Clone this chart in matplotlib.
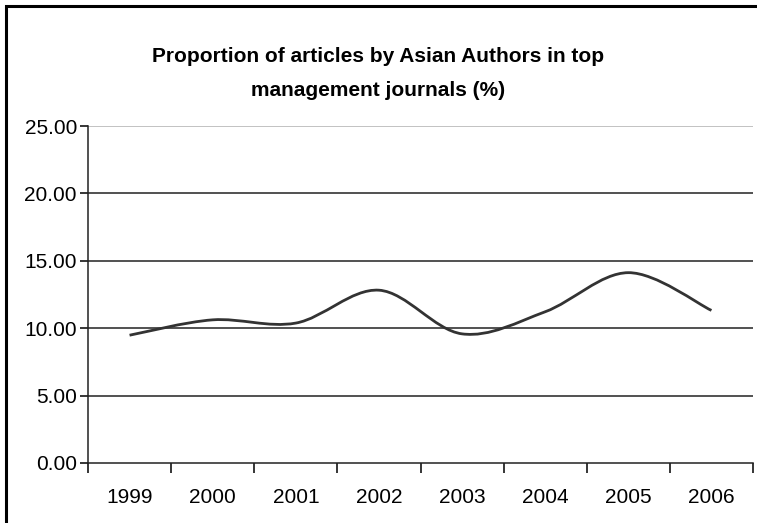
import numpy as np
import matplotlib
matplotlib.use("Agg")
import matplotlib.pyplot as plt
from matplotlib.path import Path
from matplotlib.patches import PathPatch, Rectangle

plt.rcParams['font.family'] = ['Liberation Sans', 'DejaVu Sans']

years = ['1999', '2000', '2001', '2002', '2003', '2004', '2005', '2006']
share = [9.48, 10.62, 10.38, 12.82, 9.58, 11.22, 14.12, 11.32]
y_ticks = [0, 5, 10, 15, 20, 25]

fig = plt.figure(figsize=(7.57, 5.23), dpi=100)
# chart area border (only left/top edges are visible in the picture)
fig.patches.append(Rectangle((6 / 757, -0.1), 1.2, (523 - 6) / 523 + 0.1,
                             transform=fig.transFigure, fill=False,
                             edgecolor='black', linewidth=2.2))

ax = fig.add_axes([88 / 757, 1 - 463 / 523, (753 - 88) / 757, (463 - 126) / 523])

# Excel-style smoothed line: cubic Bezier segments through the data points
x = np.arange(len(share))
pts = np.column_stack([x, share])
ext = np.vstack([pts[0], pts, pts[-1]])
verts = [tuple(pts[0])]
codes = [Path.MOVETO]
for i in range(len(pts) - 1):
    p0, p1, p2, p3 = ext[i], ext[i + 1], ext[i + 2], ext[i + 3]
    c1 = p1 + (p2 - p0) / 6
    c2 = p2 - (p3 - p1) / 6
    verts += [tuple(c1), tuple(c2), tuple(p2)]
    codes += [Path.CURVE4] * 3
ax.add_patch(PathPatch(Path(verts, codes), fill=False, edgecolor='#333333',
                       linewidth=2.0, zorder=3, capstyle='butt'))

ax.set_xlim(-0.5, len(years) - 0.5)
ax.set_ylim(0, 25)

for v in y_ticks[1:-1]:
    ax.axhline(v, color='#222222', linewidth=1.1, zorder=1)
ax.axhline(25, color='#b8b8b8', linewidth=1.2, zorder=1)

ax.set_yticks(y_ticks)
ax.set_yticklabels([f'{v:.2f}' for v in y_ticks], fontsize=15)
ax.set_xticks(np.arange(-0.5, len(years), 1.0))
ax.set_xticklabels([])
ax.set_xticks(x, minor=True)
ax.set_xticklabels(years, minor=True, fontsize=15)
ax.tick_params(axis='x', which='minor', length=0, pad=18)
ax.tick_params(axis='x', which='major', length=7, width=1.1, direction='out')
ax.tick_params(axis='y', length=6, width=1.1, direction='out', pad=2)

for s in ['top', 'right']:
    ax.spines[s].set_visible(False)
for s in ['left', 'bottom']:
    ax.spines[s].set_linewidth(1.1)
    ax.spines[s].set_color('#222222')

fig.text(0.5, 1 - 57 / 523, 'Proportion of articles by Asian Authors in top',
         ha='center', va='center', fontsize=15, fontweight='bold')
fig.text(0.5, 1 - 91 / 523, 'management journals (%)',
         ha='center', va='center', fontsize=15, fontweight='bold')

fig.savefig('out.png', dpi=100)
